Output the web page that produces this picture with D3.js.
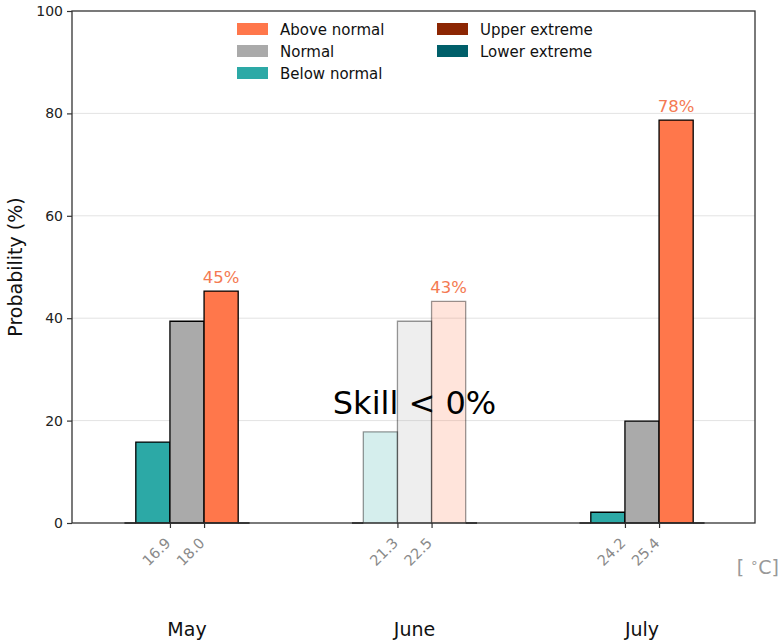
<!DOCTYPE html>
<html>
<head>
<meta charset="utf-8">
<script src="https://cdn.jsdelivr.net/npm/d3@7"></script>
<style>
  html, body { margin: 0; padding: 0; background: #fff; }
  svg { display: block; font-family: "DejaVu Sans", sans-serif; }
</style>
</head>
<body>
<svg id="chart" width="781" height="643"></svg>
<script>
// Monthly tercile forecast probabilities (%)
const months = ["May", "June", "July"];
const belowNormal = [15.8, 17.8, 2.1];
const normal = [39.4, 39.4, 19.9];
const aboveNormal = [45.3, 43.3, 78.7];
const lowerExtreme = [0, 0, 0];
const upperExtreme = [0, 0, 0];
const lowerBound = ["16.9", "21.3", "24.2"];
const upperBound = ["18.0", "22.5", "25.4"];
const skilful = [true, false, true];
const topLabels = ["45%", "43%", "78%"];
const yTicks = [0, 20, 40, 60, 80, 100];

const colors = {
  above: "#ff774b",
  normal: "#aaaaaa",
  below: "#2ca9a6",
  upper: "#8c2603",
  lower: "#005f6a"
};

const svg = d3.select("#chart");
const frame = { left: 72, right: 755, top: 11, bottom: 523 };

const x = d3.scaleLinear().domain([0, 2]).range([187, 642]);
const y = d3.scaleLinear().domain([0, 100]).range([frame.bottom, frame.top]);

// grid lines
svg.append("g")
  .selectAll("line")
  .data(yTicks.slice(1, -1))
  .join("line")
  .attr("x1", frame.left).attr("x2", frame.right)
  .attr("y1", d => y(d)).attr("y2", d => y(d))
  .attr("stroke", "#e3e3e3").attr("stroke-width", 1);

// bar layout: offsets and widths in month units
const bw = 0.15, ew = 0.05;
const series = [
  { key: "lower", vals: lowerExtreme, x0: -0.225 - ew, w: ew, extreme: true },
  { key: "below", vals: belowNormal, x0: -0.225, w: bw },
  { key: "normal", vals: normal, x0: -0.075, w: bw },
  { key: "above", vals: aboveNormal, x0: 0.075, w: bw },
  { key: "upper", vals: upperExtreme, x0: 0.225, w: ew, extreme: true }
];

const bars = [];
series.forEach(s => {
  s.vals.forEach((v, i) => {
    bars.push({ key: s.key, i, v, x0: i + s.x0, w: s.w, skill: skilful[i], extreme: !!s.extreme });
  });
});

// bars drawn as closed paths so that zero-height bars still show their edge
const barPath = d => {
  const x0 = x(d.x0), x1 = x(d.x0 + d.w), y0 = y(0), y1 = y(d.v);
  return `M${x0},${y0}V${y1}H${x1}V${y0}Z`;
};
svg.append("g")
  .selectAll("path")
  .data(bars)
  .join("path")
  .attr("d", barPath)
  .attr("fill", d => colors[d.key])
  .attr("fill-opacity", d => d.skill ? 1 : 0.2)
  .attr("stroke", "#000")
  .attr("stroke-opacity", d => (d.skill || d.extreme) ? 1 : 0.4)
  .attr("stroke-width", 1.3);

// value labels above the above-normal bars
svg.append("g")
  .selectAll("text")
  .data(aboveNormal)
  .join("text")
  .attr("x", (d, i) => x(i + 0.15))
  .attr("y", d => y(d) - 8)
  .attr("text-anchor", "middle")
  .attr("font-size", 16.5)
  .attr("fill", "#f47a52")
  .text((d, i) => topLabels[i]);

// skill notice for months without skill
months.forEach((m, i) => {
  if (!skilful[i]) {
    svg.append("text")
      .attr("x", x(i))
      .attr("y", y(21.2))
      .attr("text-anchor", "middle")
      .attr("font-size", 32)
      .attr("fill", "#000")
      .text("Skill < 0%");
  }
});

// frame
svg.append("rect")
  .attr("x", frame.left).attr("y", frame.top)
  .attr("width", frame.right - frame.left).attr("height", frame.bottom - frame.top)
  .attr("fill", "none").attr("stroke", "#333").attr("stroke-width", 1.3);

// y axis
const yAxis = svg.append("g")
  .attr("transform", `translate(${frame.left},0)`)
  .call(d3.axisLeft(y).tickValues(yTicks).tickSize(5).tickPadding(4).tickFormat(d3.format("d")));
yAxis.select(".domain").remove();
yAxis.selectAll(".tick line").attr("stroke", "#333").attr("stroke-width", 1.2);
yAxis.selectAll(".tick text").attr("font-size", 14).attr("fill", "#222")
  .attr("font-family", "DejaVu Sans, sans-serif");

svg.append("text")
  .attr("transform", `translate(22,${y(50)}) rotate(-90)`)
  .attr("text-anchor", "middle")
  .attr("font-size", 19)
  .attr("fill", "#111")
  .text("Probability (%)");

// tercile boundary ticks (x)
const tickData = [];
months.forEach((m, i) => {
  tickData.push({ pos: i - 0.075, label: lowerBound[i] });
  tickData.push({ pos: i + 0.075, label: upperBound[i] });
});
const xAxis = svg.append("g")
  .attr("transform", `translate(0,${y(0)})`)
  .call(d3.axisBottom(x).tickValues(tickData.map(d => d.pos)).tickSize(5)
    .tickFormat((d, i) => tickData[i].label));
xAxis.select(".domain").remove();
xAxis.selectAll(".tick line").attr("stroke", "#333").attr("stroke-width", 1.2);
xAxis.selectAll(".tick text")
  .attr("font-size", 14.5)
  .attr("fill", "#8a8a8a")
  .attr("font-family", "DejaVu Sans, sans-serif")
  .attr("text-anchor", "end")
  .attr("dy", null)
  .attr("y", 0)
  .attr("transform", "translate(1,21) rotate(-45)");

// month names
svg.append("g")
  .selectAll("text")
  .data(months)
  .join("text")
  .attr("x", (d, i) => x(i))
  .attr("y", 636)
  .attr("text-anchor", "middle")
  .attr("font-size", 19)
  .attr("fill", "#111")
  .text(d => d);

// unit label
const unit = svg.append("text")
  .attr("x", 779).attr("y", 574)
  .attr("text-anchor", "end")
  .attr("font-size", 19)
  .attr("fill", "#999");
unit.append("tspan").text("[ ");
unit.append("tspan").attr("font-size", 13).attr("dy", -7).text("\u2218");
unit.append("tspan").attr("dy", 7).text("C]");

// legend
const legendItems = [
  { label: "Above normal", key: "above", col: 0, row: 0 },
  { label: "Normal", key: "normal", col: 0, row: 1 },
  { label: "Below normal", key: "below", col: 0, row: 2 },
  { label: "Upper extreme", key: "upper", col: 1, row: 0 },
  { label: "Lower extreme", key: "lower", col: 1, row: 1 }
];
const lg = svg.append("g").selectAll("g")
  .data(legendItems)
  .join("g")
  .attr("transform", d => `translate(${237 + d.col * 200},${29 + d.row * 22})`);
lg.append("rect")
  .attr("x", 0).attr("y", -6).attr("width", 31).attr("height", 12)
  .attr("fill", d => colors[d.key]);
lg.append("text")
  .attr("x", 43).attr("y", 5.5)
  .attr("font-size", 15)
  .attr("fill", "#111")
  .text(d => d.label);
</script>
</body>
</html>
